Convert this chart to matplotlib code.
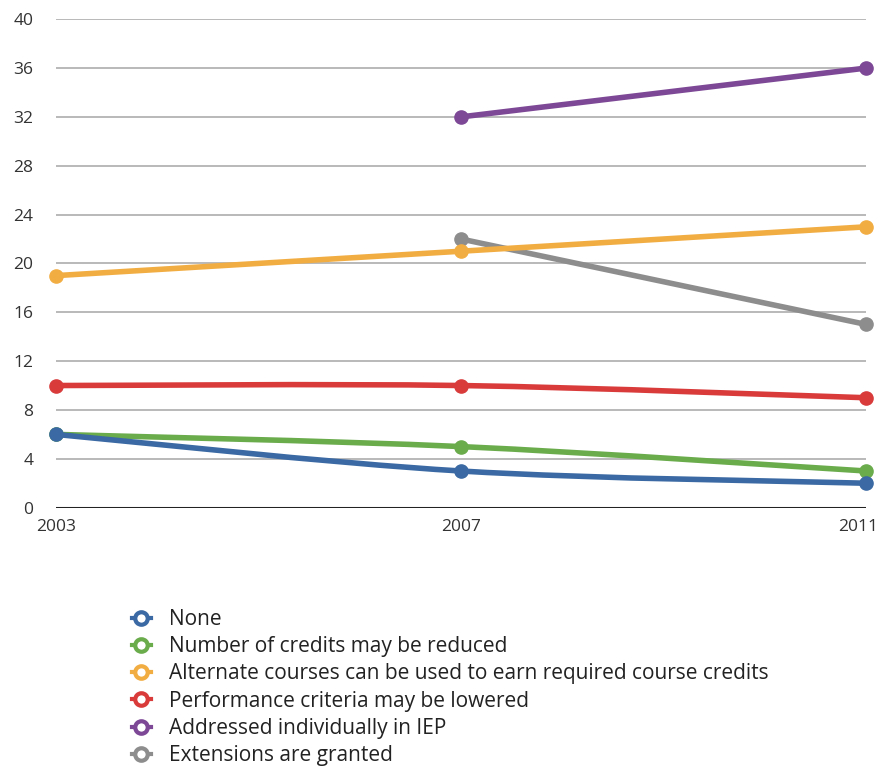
import numpy as np
import matplotlib.pyplot as plt
import matplotlib.transforms as mtransforms
from matplotlib.path import Path
from matplotlib.patches import PathPatch
from matplotlib.lines import Line2D

plt.rcParams['font.family'] = ['Open Sans', 'DejaVu Sans']

years = [2003, 2007, 2011]
none_vals = [6, 3, 2]
credits_vals = [6, 5, 3]
alternate_vals = [19, 21, 23]
performance_vals = [10, 10, 9]
iep_vals = [np.nan, 32, 36]
extension_vals = [np.nan, 22, 15]

labels = [
    "None",
    "Number of credits may be reduced",
    "Alternate courses can be used to earn required course credits",
    "Performance criteria may be lowered",
    "Addressed individually in IEP",
    "Extensions are granted",
]
series = [none_vals, credits_vals, alternate_vals, performance_vals, iep_vals, extension_vals]
colors = ["#3a69a3", "#6aab4c", "#f2ad42", "#d93b3b", "#7d4896", "#8d8d8d"]
zorders = [6, 5, 4, 5, 5, 3]


def smooth_path(xs, ys):
    # catmull-rom style bezier through the points
    pts = np.column_stack([xs, ys])
    n = len(pts)
    verts = [pts[0]]
    codes = [Path.MOVETO]
    for i in range(n - 1):
        p_prev = pts[max(i - 1, 0)]
        p0 = pts[i]
        p1 = pts[i + 1]
        p_next = pts[min(i + 2, n - 1)]
        c1 = p0 + (p1 - p_prev) / 6
        c2 = p1 - (p_next - p0) / 6
        verts += [c1, c2, p1]
        codes += [Path.CURVE4] * 3
    return Path(verts, codes)


fig = plt.figure(figsize=(8.84, 7.68), dpi=100)
ax = fig.add_axes([0.063, 0.339, 0.917, 0.636])

for vals, color, z in zip(series, colors, zorders):
    x = np.array(years, dtype=float)
    y = np.array(vals, dtype=float)
    ok = ~np.isnan(y)
    patch = PathPatch(smooth_path(x[ok], y[ok]), fill=False, edgecolor=color,
                      lw=4.0, capstyle='round', joinstyle='round', zorder=z, clip_on=False)
    ax.add_patch(patch)
    ax.plot(x[ok], y[ok], linestyle='none', marker='o', ms=9.5, color=color,
            zorder=z, clip_on=False)

ax.set_xlim(2003, 2011)
ax.set_ylim(0, 40)
ax.set_yticks(np.arange(0, 41, 4))
ax.set_xticks(years)
ax.yaxis.grid(True, color="#b3b3b3", lw=1.3)
ax.set_axisbelow(True)
ax.axhline(0, color="#222222", lw=2.2, zorder=2)
for s in ax.spines.values():
    s.set_visible(False)
ax.tick_params(length=0, labelsize=12.5, labelcolor="#333333")
ax.tick_params(axis='y', pad=16)
ax.tick_params(axis='x', pad=8)

# keep the last year label inside the figure
fig.canvas.draw()
last = ax.get_xticklabels()[-1]
last.set_ha('right')
last.set_transform(last.get_transform() +
                   mtransforms.ScaledTranslation(12 / 100, 0, fig.dpi_scale_trans))

handles = [Line2D([0], [0], color=c, lw=3, marker='o', ms=9, markerfacecolor='white',
                  markeredgewidth=3) for c in colors]
fig.legend(handles, labels, loc='upper left', bbox_to_anchor=(0.140, 0.218),
           frameon=False, fontsize=15, handlelength=0.9, handletextpad=0.85,
           labelspacing=0.30, labelcolor="#222222", borderaxespad=0)

fig.savefig("out.png", dpi=100)
